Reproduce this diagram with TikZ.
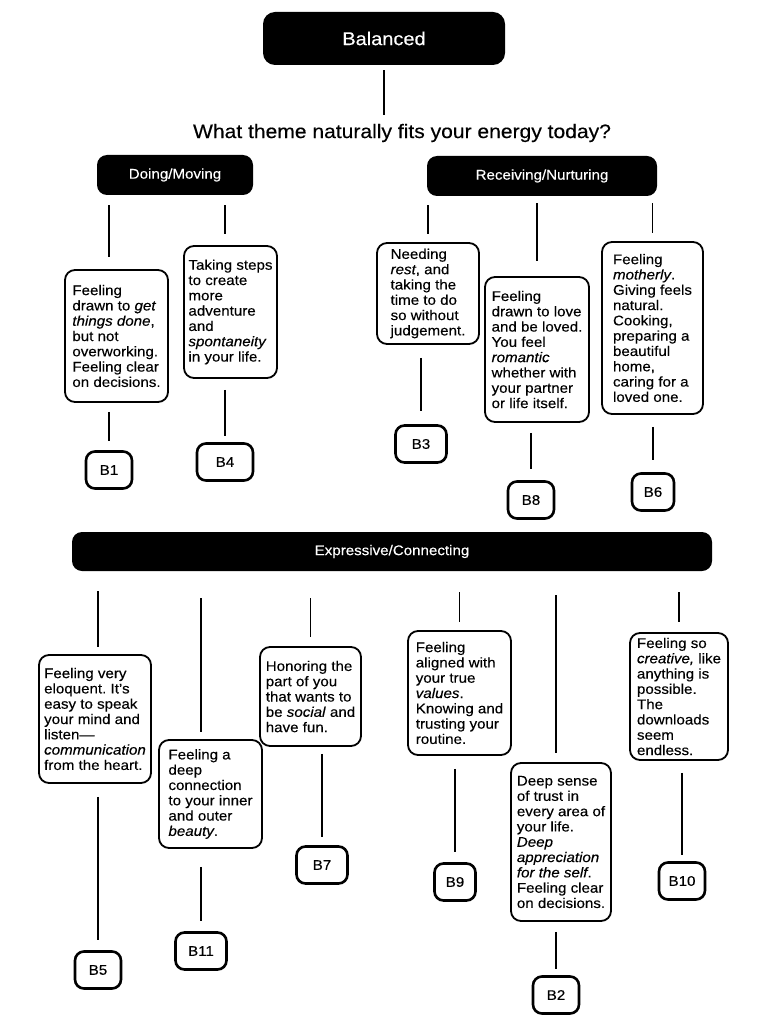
\documentclass[tikz,border=0pt]{standalone}
\usepackage{fontspec}
\setmainfont{Liberation Sans}[FakeStretch=1.08, FakeBold=0.3]
\usetikzlibrary{calc}
\frenchspacing

\begin{document}
\begin{tikzpicture}[x=1pt, y=-1pt,
    head/.style={fill=black, text=white, rounded corners=12pt, inner sep=0pt},
    card/.style={draw, line width=1.8pt, rounded corners=10pt, align=left, inner sep=0pt,
      font=\fontsize{14}{15.3}\selectfont},
    tag/.style={draw, line width=2.6pt, rounded corners=9pt, minimum width=46pt,
      minimum height=37pt, inner sep=0pt, font=\fontsize{14}{16}\selectfont},
    link/.style={line width=1.6pt}]
  \useasboundingbox (0,0) rectangle (768,1024);
  % headings
  \node[head, minimum width=242pt, minimum height=53pt, font=\fontsize{18.5}{20}\selectfont] (top) at (384,38.5) {Balanced};
  \node[inner sep=0pt, font=\fontsize{19.5}{21}\selectfont] (q) at (402,133) {What theme naturally fits your energy today?};
  \node[head, rounded corners=10pt, minimum width=156pt, minimum height=40pt, font=\fontsize{14}{16}\selectfont] (doing) at (175,175) {Doing/Moving};
  \node[head, rounded corners=10pt, minimum width=230pt, minimum height=40pt, font=\fontsize{14}{16}\selectfont] (recv) at (542,176) {Receiving/Nurturing};
  \node[head, rounded corners=10pt, minimum width=640pt, minimum height=39pt, font=\fontsize{14}{16}\selectfont] (expr) at (392,551.5) {Expressive/Connecting};
  % upper cards
  \node[card, minimum width=103pt, minimum height=132pt] (t1) at (116.5,336) {Feeling\\drawn to \emph{get}\\\emph{things done},\\but not\\overworking.\\Feeling clear\\on decisions.};
  \node[card, minimum width=93pt, minimum height=132pt] (t4) at (230.5,312) {Taking steps\\to create\\more\\adventure\\and\\\emph{spontaneity}\\in your life.};
  \node[card, minimum width=102pt, minimum height=101pt] (t3) at (428,293.5) {Needing\\\emph{rest}, and\\taking the\\time to do\\so without\\judgement.};
  \node[card, minimum width=104pt, minimum height=145pt] (t8) at (537,349.5) {Feeling\\drawn to love\\and be loved.\\You feel\\\emph{romantic}\\whether with\\your partner\\or life itself.};
  \node[card, minimum width=101pt, minimum height=172pt] (t6) at (652.5,328) {Feeling\\\emph{motherly}.\\Giving feels\\natural.\\Cooking,\\preparing a\\beautiful\\home,\\caring for a\\loved one.};
  % lower cards
  \node[card, minimum width=112pt, minimum height=128pt] (t5) at (95,719) {Feeling very\\eloquent. It’s\\easy to speak\\your mind and\\listen—\\\emph{communication}\\from the heart.};
  \node[card, minimum width=103pt, minimum height=108pt] (t11) at (210.5,794) {Feeling a\\deep\\connection\\to your inner\\and outer\\\emph{beauty}.};
  \node[card, minimum width=101pt, minimum height=99pt] (t7) at (310.5,696.5) {Honoring the\\part of you\\that wants to\\be \emph{social} and\\have fun.};
  \node[card, minimum width=103pt, minimum height=124pt] (t9) at (459.5,693) {Feeling\\aligned with\\your true\\\emph{values}.\\Knowing and\\trusting your\\routine.};
  \node[card, minimum width=100pt, minimum height=158pt] (t2) at (561,842) {Deep sense\\of trust in\\every area of\\your life.\\\emph{Deep}\\\emph{appreciation}\\\emph{for the self}.\\Feeling clear\\on decisions.};
  \node[card, minimum width=98pt, minimum height=127pt] (t10) at (679,696.5) {Feeling so\\\emph{creative,} like\\anything is\\possible.\\The\\downloads\\seem\\endless.};
  % result tags
  \node[tag] (b1) at (109,470) {B1};
  \node[tag, minimum width=56pt] (b4) at (225,462) {B4};
  \node[tag, minimum width=51pt] (b3) at (421,444) {B3};
  \node[tag] (b8) at (531,500) {B8};
  \node[tag, minimum width=42pt] (b6) at (653,492) {B6};
  \node[tag] (b5) at (98,970) {B5};
  \node[tag, minimum width=51pt] (b11) at (201,951) {B11};
  \node[tag, minimum width=51pt] (b7) at (322,865) {B7};
  \node[tag, minimum width=41pt] (b9) at (455,882) {B9};
  \node[tag] (b2) at (556,995) {B2};
  \node[tag] (b10) at (682,881) {B10};
  % top link
  \draw[link, shorten <=5pt, shorten >=9pt] (top.south) -- (top.south |- q.north);
  % Doing/Moving branch
  \draw[link, shorten <=10pt, shorten >=12pt] (doing.south -| b1) -- (t1.north -| b1);
  \draw[link, shorten <=10pt, shorten >=11pt] (doing.south -| b4) -- (t4.north -| b4);
  \draw[link, shorten <=9pt, shorten >=9pt] (t1.south -| b1) -- (b1.north);
  \draw[link, shorten <=11pt, shorten >=6pt] (t4.south -| b4) -- (b4.north);
  % Receiving/Nurturing branch
  \draw[link, shorten <=9pt, shorten >=8pt] (recv.south -| t3) -- (t3.north);
  \draw[link, shorten <=7pt, shorten >=15pt] (recv.south -| t8) -- (t8.north);
  \draw[link, shorten <=7pt, shorten >=8pt] (recv.south -| t6) -- (t6.north);
  \draw[link, shorten <=13pt, shorten >=13pt] (t3.south -| b3) -- (b3.north);
  \draw[link, shorten <=10pt, shorten >=11pt] (t8.south -| b8) -- (b8.north);
  \draw[link, shorten <=12pt, shorten >=12pt] (t6.south -| b6) -- (b6.north);
  % Expressive/Connecting branch
  \draw[link, shorten <=20pt, shorten >=7pt] (expr.south -| b5) -- (t5.north -| b5);
  \draw[link, shorten <=27pt, shorten >=7pt] (expr.south -| b11) -- (t11.north -| b11);
  \draw[link, shorten <=27pt, shorten >=9pt] (expr.south -| t7) -- (t7.north);
  \draw[link, shorten <=21pt, shorten >=8pt] (expr.south -| t9) -- (t9.north);
  \draw[link, shorten <=24pt, shorten >=9pt] (expr.south -| b2) -- (t2.north -| b2);
  \draw[link, shorten <=21pt, shorten >=10pt] (expr.south -| t10) -- (t10.north);
  \draw[link, shorten <=13pt, shorten >=10pt] (t5.south -| b5) -- (b5.north);
  \draw[link, shorten <=18pt, shorten >=10pt] (t11.south -| b11) -- (b11.north);
  \draw[link, shorten <=7pt, shorten >=8pt] (t7.south -| b7) -- (b7.north);
  \draw[link, shorten <=13pt, shorten >=10pt] (t9.south -| b9) -- (b9.north);
  \draw[link, shorten <=10pt, shorten >=6pt] (t2.south -| b2) -- (b2.north);
  \draw[link, shorten <=12pt, shorten >=6pt] (t10.south -| b10) -- (b10.north);
\end{tikzpicture}
\end{document}
